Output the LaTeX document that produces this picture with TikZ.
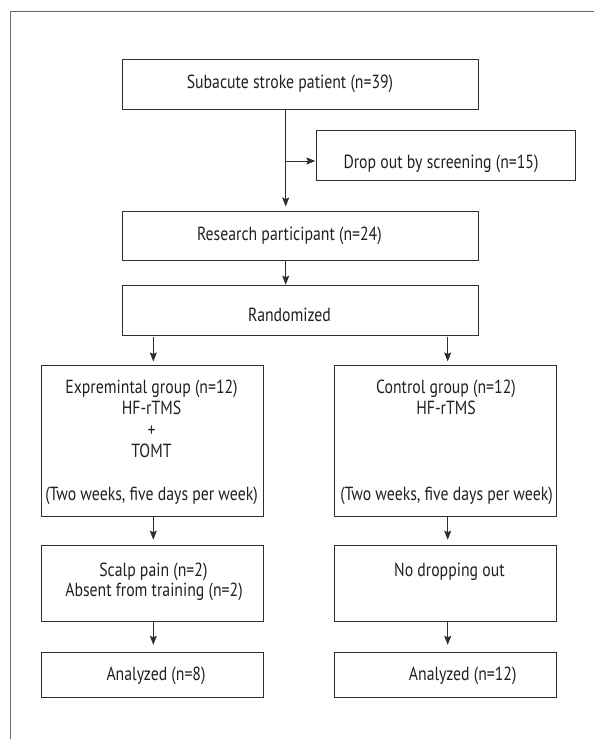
\documentclass[tikz,border=0pt]{standalone}
\usepackage{fontspec}
\setmainfont{PT Sans}[FakeStretch=0.83]
\usetikzlibrary{arrows.meta}
\definecolor{linec}{HTML}{2E2E2E}
\definecolor{textc}{HTML}{231F20}
\definecolor{framec}{HTML}{6A6A6A}
\begin{document}
\begin{tikzpicture}[x=1pt,y=-1pt,
  box/.style={draw=linec, line width=1pt, inner sep=0pt},
  txt/.style={text=textc, font=\fontsize{19}{21.5}\selectfont, align=center, inner sep=0pt, anchor=base},
  arr/.style={draw=linec, line width=1pt, -{Stealth[length=9pt,width=7pt,inset=1.5pt]}}]
\useasboundingbox (0,0) rectangle (594,739);
\draw[framec, line width=1pt] (594,11) -- (10,11) -- (10,739);
% boxes
\node[box, minimum width=355.7pt, minimum height=49.6pt] (b1) at (300.8,84.5) {};
\node[box, minimum width=258.7pt, minimum height=50pt] (drop) at (445.7,155) {};
\node[box, minimum width=355.7pt, minimum height=49.7pt] (res) at (300.8,235.9) {};
\node[box, minimum width=355.7pt, minimum height=49.6pt] (rand) at (300.8,310.5) {};
\node[box, minimum width=222pt, minimum height=150.7pt] (eg) at (152.3,441.3) {};
\node[box, minimum width=221.7pt, minimum height=150.7pt] (cg) at (445.6,441.3) {};
\node[box, minimum width=222pt, minimum height=76pt] (eo) at (152.3,583.7) {};
\node[box, minimum width=221.7pt, minimum height=76pt] (co) at (445.6,583.7) {};
\node[box, minimum width=222pt, minimum height=45.4pt] (ea) at (152.3,675) {};
\node[box, minimum width=221.7pt, minimum height=45.4pt] (ca) at (445.6,675) {};
% texts
\node[txt] (t1) at (290,88.3) {Subacute stroke patient (n=39)};
\node[txt] (tdrop) at (441,168.3) {Drop out by screening (n=15)};
\node[txt] (tres) at (289.4,240.7) {Research participant (n=24)};
\node[txt] (trand) at (289.5,321.7) {Randomized};
\node[txt] (teg1) at (151.5,393.3) {Expremintal group (n=12)};
\node[txt] (teg2) at (151.5,414.8) {HF-rTMS};
\node[txt] (teg3) at (151.5,436.3) {+};
\node[txt] (teg4) at (151.5,457.8) {TOMT};
\node[txt] (teg5) at (151.5,500.8) {(Two weeks, five days per week)};
\node[txt] (tcg1) at (446,393.3) {Control group (n=12)};
\node[txt] (tcg2) at (446,414.8) {HF-rTMS};
\node[txt] (tcg5) at (446.5,500.8) {(Two weeks, five days per week)};
\node[txt] (teo1) at (153.4,576.2) {Scalp pain (n=2)};
\node[txt] (teo2) at (154,596.7) {Absent from training (n=2)};
\node[txt] (tco) at (449.4,576) {No dropping out};
\node[txt] (tea) at (156,680) {Analyzed (n=8)};
\node[txt] (tca) at (462.7,680) {Analyzed (n=12)};
% connectors
\coordinate (ax) at (285.7,0);
\coordinate (br) at (285.7,161);
\coordinate (lx) at (153.3,0);
\coordinate (rx) at (447.7,0);
\draw[arr, shorten >=4pt] (b1.south -| ax) -- (res.north -| ax);
\draw[arr, shorten >=0.5pt] (br) -- (br -| drop.west);
\draw[arr, shorten >=0.5pt] (res.south -| ax) -- (rand.north -| ax);
\draw[arr, shorten >=4pt, shorten <=1.5pt] (rand.south -| lx) -- (eg.north -| lx);
\draw[arr, shorten >=4pt, shorten <=1.5pt] (rand.south -| rx) -- (cg.north -| rx);
\draw[arr, shorten >=5.5pt] (eg.south -| lx) -- (eo.north -| lx);
\draw[arr, shorten >=5.5pt] (cg.south -| rx) -- (co.north -| rx);
\draw[arr, shorten >=7pt] (eo.south -| lx) -- (ea.north -| lx);
\draw[arr, shorten >=7pt] (co.south -| rx) -- (ca.north -| rx);
\end{tikzpicture}
\end{document}
